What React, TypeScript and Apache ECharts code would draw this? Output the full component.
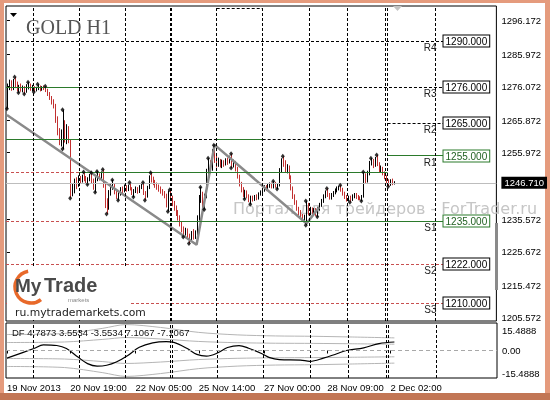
import React, { useEffect, useRef } from "react";
import * as echarts from "echarts";

// Hourly OHLC bars, one array per trading day: [open, close, low, high]
const nov19 = [
  [1270.0, 1276.5, 1269.3, 1277.0], [1276.5, 1277.5, 1275.0, 1278.2], [1277.5, 1275.5, 1274.8, 1278.0],
  [1275.5, 1277.2, 1275.0, 1278.4], [1277.2, 1276.8, 1275.6, 1279.0], [1276.8, 1275.0, 1274.6, 1277.6],
  [1275.0, 1275.8, 1274.2, 1276.6], [1275.8, 1274.8, 1274.5, 1277.0], [1274.8, 1275.6, 1274.3, 1276.4],
  [1275.6, 1274.4, 1273.8, 1276.2], [1274.4, 1276.2, 1274.2, 1276.8], [1276.2, 1276.6, 1275.2, 1277.4],
  [1276.6, 1275.2, 1274.8, 1277.0], [1275.2, 1275.8, 1274.6, 1276.6],
];
const nov20 = [
  [1275.8, 1274.8, 1274.4, 1276.2], [1274.8, 1275.6, 1274.6, 1276.0], [1275.6, 1276.0, 1275.0, 1276.8],
  [1276.0, 1275.2, 1274.6, 1276.4], [1275.2, 1275.8, 1274.8, 1276.2], [1275.8, 1275.5, 1275.0, 1276.4],
  [1275.5, 1275.0, 1274.4, 1276.2], [1275.0, 1273.8, 1273.2, 1275.4], [1273.8, 1272.6, 1272.0, 1274.4],
  [1272.6, 1271.4, 1270.6, 1273.2], [1271.4, 1270.0, 1269.4, 1272.2], [1270.0, 1266.0, 1265.0, 1270.8],
  [1266.0, 1262.0, 1261.2, 1267.0], [1262.0, 1259.4, 1258.2, 1263.4], [1259.4, 1261.5, 1257.8, 1263.0],
  [1260.0, 1265.0, 1257.0, 1269.0], [1265.0, 1261.0, 1259.0, 1265.8], [1261.0, 1263.5, 1258.5, 1264.6],
  [1263.5, 1259.5, 1258.8, 1264.0], [1259.5, 1243.0, 1242.0, 1260.0], [1243.0, 1245.0, 1242.6, 1246.5],
  [1245.0, 1247.0, 1243.5, 1248.0], [1247.0, 1246.0, 1244.8, 1248.4], [1246.0, 1248.0, 1245.5, 1249.0],
];
const nov21 = [
  [1248.0, 1247.2, 1246.4, 1248.8], [1247.2, 1248.6, 1246.8, 1249.2], [1248.6, 1248.0, 1247.2, 1250.0],
  [1248.0, 1247.0, 1246.6, 1248.8], [1247.0, 1247.8, 1246.2, 1248.4], [1247.8, 1248.8, 1247.2, 1249.4],
  [1248.8, 1247.4, 1246.6, 1249.8], [1247.4, 1245.0, 1244.6, 1248.0], [1245.0, 1247.8, 1243.8, 1248.4],
  [1247.8, 1249.0, 1247.2, 1250.2], [1249.0, 1248.0, 1247.4, 1249.6], [1248.0, 1249.6, 1247.6, 1250.2],
  [1249.6, 1246.0, 1245.2, 1250.8], [1246.0, 1240.0, 1239.0, 1246.8], [1240.0, 1239.0, 1237.2, 1242.0],
  [1239.0, 1243.5, 1238.5, 1244.5], [1243.5, 1245.5, 1242.8, 1246.6], [1245.5, 1246.0, 1244.6, 1247.6],
  [1246.0, 1244.0, 1243.2, 1246.6], [1244.0, 1242.4, 1241.8, 1244.8], [1242.4, 1243.4, 1241.4, 1244.2],
  [1243.4, 1244.8, 1242.8, 1245.4], [1244.8, 1244.2, 1243.4, 1245.6], [1244.2, 1245.6, 1243.8, 1246.2],
];
const nov22 = [
  [1245.6, 1244.6, 1244.0, 1246.0], [1244.6, 1245.8, 1244.2, 1246.2], [1245.8, 1245.0, 1244.4, 1246.8],
  [1245.0, 1243.4, 1243.0, 1245.4], [1243.4, 1244.2, 1242.4, 1244.8], [1244.2, 1245.0, 1243.6, 1245.6],
  [1245.0, 1244.0, 1243.4, 1245.4], [1244.0, 1245.4, 1243.6, 1246.0], [1245.4, 1245.8, 1244.8, 1246.4],
  [1245.8, 1243.6, 1243.0, 1246.8], [1243.6, 1242.6, 1241.4, 1244.2], [1242.6, 1245.2, 1242.2, 1245.8],
  [1245.2, 1248.4, 1244.8, 1249.0], [1248.4, 1247.6, 1246.8, 1249.8], [1247.6, 1246.8, 1246.0, 1248.6],
  [1246.8, 1246.0, 1245.2, 1247.6], [1246.0, 1245.4, 1244.6, 1246.8], [1245.4, 1244.8, 1244.0, 1246.2],
  [1244.8, 1244.0, 1243.4, 1245.6], [1244.0, 1243.4, 1242.8, 1244.8], [1243.4, 1242.8, 1242.0, 1244.2],
  [1242.8, 1240.0, 1239.2, 1243.4], [1238.6, 1243.8, 1238.0, 1244.4], [1243.8, 1242.8, 1242.0, 1244.6],
];
const nov25 = [
  [1242.0, 1240.4, 1239.6, 1242.8], [1240.4, 1239.0, 1238.2, 1241.2], [1239.0, 1237.4, 1236.6, 1239.8],
  [1237.4, 1236.0, 1235.2, 1238.4], [1236.0, 1234.2, 1233.4, 1236.8], [1234.2, 1232.4, 1231.6, 1235.0],
  [1232.4, 1231.2, 1230.2, 1233.4], [1231.2, 1232.2, 1230.6, 1233.0], [1232.2, 1230.0, 1229.4, 1232.8],
  [1230.0, 1229.4, 1228.2, 1231.2], [1229.4, 1231.0, 1228.8, 1232.0], [1231.0, 1230.2, 1229.4, 1232.6],
  [1230.2, 1231.4, 1229.6, 1232.2], [1231.4, 1236.0, 1229.8, 1236.8], [1236.0, 1242.0, 1235.2, 1243.0],
  [1242.0, 1243.2, 1240.6, 1245.4], [1243.2, 1240.0, 1239.2, 1244.0], [1240.0, 1242.6, 1238.6, 1243.4],
  [1242.6, 1250.0, 1242.0, 1251.0], [1250.0, 1252.4, 1248.6, 1254.2], [1252.4, 1251.0, 1249.6, 1253.6],
  [1251.0, 1256.0, 1250.4, 1257.0], [1256.0, 1254.0, 1252.8, 1258.2], [1254.0, 1252.2, 1251.4, 1255.0],
];
const nov26 = [
  [1252.2, 1253.4, 1251.6, 1254.4], [1253.4, 1252.0, 1251.4, 1254.0], [1252.0, 1253.0, 1251.2, 1253.8],
  [1253.0, 1252.4, 1251.6, 1253.6], [1252.4, 1253.6, 1252.0, 1254.2], [1253.6, 1253.0, 1252.2, 1254.4],
  [1253.0, 1254.4, 1252.6, 1255.0], [1254.4, 1252.0, 1251.2, 1255.6], [1252.0, 1253.0, 1251.4, 1253.8],
  [1253.0, 1251.0, 1250.2, 1253.4], [1251.0, 1248.6, 1248.0, 1251.6], [1248.6, 1246.4, 1245.6, 1249.2],
  [1246.4, 1244.6, 1243.8, 1247.0], [1244.6, 1243.0, 1242.4, 1245.4], [1243.0, 1243.8, 1241.8, 1244.6],
  [1243.8, 1242.6, 1242.0, 1244.4], [1242.6, 1241.4, 1240.8, 1243.2], [1241.4, 1242.0, 1240.2, 1242.8],
  [1242.0, 1241.6, 1241.0, 1242.8], [1241.6, 1242.4, 1241.2, 1243.0], [1242.4, 1242.0, 1241.4, 1243.2],
  [1242.0, 1243.2, 1241.6, 1243.8], [1243.2, 1243.8, 1242.8, 1244.4], [1243.8, 1244.6, 1243.2, 1245.2],
];
const nov27 = [
  [1244.6, 1245.4, 1244.0, 1246.0], [1245.4, 1244.8, 1244.2, 1246.0], [1244.8, 1245.8, 1244.4, 1246.4],
  [1245.8, 1246.2, 1245.2, 1246.8], [1246.2, 1245.6, 1245.0, 1246.8], [1245.6, 1246.4, 1245.0, 1247.2],
  [1246.4, 1245.6, 1245.2, 1247.0], [1245.6, 1246.0, 1244.8, 1246.6], [1246.0, 1250.4, 1245.6, 1251.2],
  [1250.4, 1253.6, 1249.8, 1254.2], [1253.6, 1252.8, 1251.6, 1254.8], [1252.8, 1250.4, 1249.8, 1253.6],
  [1250.4, 1251.6, 1249.6, 1252.4], [1251.6, 1248.4, 1247.8, 1252.0], [1248.4, 1245.0, 1244.4, 1249.0],
  [1245.0, 1242.4, 1241.8, 1245.6], [1242.4, 1240.6, 1240.0, 1243.2], [1240.6, 1238.8, 1238.2, 1241.4],
  [1238.8, 1237.6, 1236.8, 1239.4], [1237.6, 1236.6, 1235.8, 1238.4], [1236.6, 1235.8, 1235.2, 1237.2],
  [1235.8, 1236.4, 1235.0, 1237.0], [1234.8, 1240.0, 1233.8, 1241.2], [1240.0, 1237.6, 1236.8, 1240.6],
];
const nov28 = [
  [1237.6, 1238.6, 1236.8, 1239.4], [1238.6, 1237.8, 1237.0, 1239.2], [1237.8, 1238.4, 1236.8, 1239.0],
  [1238.4, 1237.4, 1236.6, 1239.0], [1237.4, 1238.8, 1236.4, 1239.4], [1238.8, 1240.0, 1238.2, 1240.6],
  [1240.0, 1241.2, 1239.4, 1241.8], [1241.2, 1242.6, 1240.6, 1243.2], [1242.6, 1243.8, 1242.0, 1244.4],
  [1243.8, 1243.0, 1242.4, 1245.0], [1243.0, 1242.2, 1241.6, 1243.6], [1242.2, 1243.0, 1241.6, 1243.6],
  [1243.0, 1243.8, 1242.4, 1244.2], [1243.8, 1244.4, 1243.2, 1245.0], [1244.4, 1245.0, 1243.8, 1245.6],
  [1245.0, 1245.4, 1244.4, 1245.8], [1245.4, 1244.6, 1244.0, 1246.0], [1244.6, 1243.4, 1242.8, 1245.2],
  [1243.4, 1242.4, 1241.8, 1244.0], [1242.4, 1241.6, 1241.0, 1243.0],
];
const nov29 = [
  [1241.6, 1242.2, 1241.0, 1242.8], [1242.2, 1241.6, 1240.8, 1242.8], [1241.6, 1242.6, 1241.2, 1243.2],
  [1242.6, 1243.0, 1242.0, 1243.6], [1243.0, 1242.4, 1241.8, 1243.6], [1242.4, 1242.0, 1241.4, 1243.0],
  [1242.0, 1241.8, 1241.4, 1242.6], [1241.8, 1242.6, 1241.2, 1243.0], [1242.6, 1248.8, 1242.2, 1250.0],
  [1248.8, 1247.4, 1246.6, 1249.6], [1247.4, 1249.6, 1246.8, 1250.4], [1249.6, 1252.8, 1249.0, 1253.4],
  [1252.8, 1253.6, 1252.0, 1254.2], [1253.6, 1252.0, 1251.2, 1254.0], [1252.0, 1253.8, 1251.6, 1254.6],
  [1253.8, 1252.4, 1251.8, 1255.2], [1252.4, 1250.6, 1250.0, 1253.0], [1250.6, 1251.2, 1249.8, 1252.0],
  [1251.2, 1249.6, 1249.0, 1251.6], [1249.6, 1248.4, 1247.8, 1250.2],
];
const dec02 = [
  [1248.4, 1247.2, 1246.6, 1249.0], [1247.2, 1246.0, 1245.6, 1247.8], [1246.0, 1247.4, 1245.8, 1247.8],
  [1247.4, 1246.4, 1246.0, 1248.0], [1246.4, 1246.71, 1246.2, 1247.2],
];
const days = [nov19, nov20, nov21, nov22, nov25, nov26, nov27, nov28, nov29, dec02];

// fractal bars (bar numbers)
const fractalHighIdx = [4, 11, 16, 20, 29, 40, 44, 47, 50, 55, 64, 71, 75, 85, 101, 105, 108, 117, 139, 144, 156, 167, 174, 186, 190, 193];
const fractalLowIdx = [0, 6, 9, 14, 29, 33, 42, 46, 52, 58, 66, 72, 84, 92, 95, 103, 117, 124, 127, 141, 156, 162, 179, 185, 199];

// gray zigzag trend line
const trendIdx = [0, 99, 108.4, 156.4, 163];
const trendVal = [1267.4, 1227.8, 1258.3, 1234.3, 1239.3];

// day separators (bar-number positions)
const sepIdx = [13.6, 37.6, 61.5, 85.0, 86.0, 109.5, 133.5, 158.0, 177.8, 197.6, 198.7, 223.7];

// horizontal level segments
const segPrice = [1300, 1290, 1276, 1276, 1265, 1260, 1260, 1260, 1260, 1255, 1250, 1250, 1235, 1235, 1222, 1210];
const segFrom = [109.5, -0.5, -0.5, 37.6, 198.7, -0.5, 37.6, 109.5, 133.5, 198.7, -0.5, 37.6, -0.5, 37.6, -0.5, -0.5];
const segTo = [133.5, 227.9, 37.6, 227.9, 227.9, 37.6, 109.5, 133.5, 198.7, 227.9, 37.6, 198.7, 37.6, 227.9, 227.9, 227.9];
const segKind = ["black", "black", "green", "black", "black", "green", "black", "green", "black", "green", "red", "green", "red", "green", "red", "red"];

// pivot labels at right
const pivotNames = ["R4", "R3", "R2", "R1", "S1", "S2", "S3"];
const pivotPrices = [1290, 1276, 1265, 1255, 1235, 1222, 1210];
const pivotGreen = [false, false, false, true, true, false, false];
const pivotEnd = 227.9;

const lastPrice = 1246.71;
const priceTicks = [1296.172, 1285.972, 1276.072, 1265.872, 1255.972, 1246.71, 1235.572, 1225.672, 1215.472, 1205.572];
const timeIdx = [0, 33, 67, 100, 134, 167, 200];
const timeText = ["19 Nov 2013", "20 Nov 19:00", "22 Nov 05:00", "25 Nov 14:00", "27 Nov 00:00", "28 Nov 09:00", "2 Dec 02:00"];

// DF indicator
const dfTicks = [15.4888, 0, -15.4888];
const dfIdx = [0, 14, 19, 26, 31, 37, 42, 47, 52, 57, 63, 69, 76, 83, 87, 94, 99, 104, 110, 115, 121, 126, 133, 137, 142, 153, 158, 165, 172, 177, 186, 194, 202];
const dfVal = [-4.3, 1.1, 3.2, 2.8, 1.1, -3.7, -7.4, -8.8, -8.3, -6.5, -2.8, 1.8, 4.3, 5.0, 4.6, 1.1, -2.2, -3.2, -1.3, 1.7, 2.8, 1.3, -1.8, -4.0, -5.1, -5.4, -6.1, -4.3, -1.8, 0.0, 1.5, 3.9, 4.7873];
const bandIdx = [0, 30, 50, 62, 80, 100, 120, 140, 160, 180, 202];
const bandOuter = [9.0, 9.6, 12.5, 14.6, 13.0, 10.2, 8.8, 8.2, 8.0, 7.6, 7.1067];
const bandInner = [4.5, 4.8, 6.25, 7.3, 6.5, 5.1, 4.4, 4.1, 4.0, 3.8, 3.5534];

const RED = "#c23030";
const GREEN = "#2b7a2b";
const FONT = "Liberation Sans";

export default function App() {
  const ref = useRef<HTMLDivElement>(null);
  useEffect(() => {
    if (!ref.current) return;
    const chart = echarts.init(ref.current, null, { renderer: "svg" });

    const bars: number[][] = [];
    let n = 0;
    days.forEach((d) => d.forEach((b) => bars.push([n++, b[0], b[1], b[2], b[3]])));

    const styleFor = (k: string) =>
      k === "green"
        ? { color: GREEN, type: "solid", width: 1 }
        : k === "red"
        ? { color: "#c85050", type: [3, 2], width: 1 }
        : { color: "#000", type: [3, 2], width: 1 };

    const segData: any[] = segPrice.map((p, i) => [
      { coord: [segFrom[i], p], lineStyle: styleFor(segKind[i]) },
      { coord: [segTo[i], p] },
    ]);
    segData.push([
      { coord: [-0.5, lastPrice], lineStyle: { color: "#bdbdbd", type: "solid", width: 1 } },
      { coord: [255.5, lastPrice] },
    ]);
    const sepData = sepIdx.map((v) => ({ xAxis: v }));
    const sepStyle = { color: "#000", type: [3, 2], width: 1 };

    const option: any = {
      animation: false,
      grid: [
        { left: 6, top: 6, width: 491, height: 315, show: true, borderColor: "#000", borderWidth: 1 },
        { left: 6, top: 323, width: 491, height: 55, show: true, borderColor: "#000", borderWidth: 1 },
      ],
      xAxis: [
        {
          type: "value", gridIndex: 0, min: -0.5, max: 255.5,
          axisLine: { show: false }, axisTick: { show: false }, axisLabel: { show: false }, splitLine: { show: false },
        },
        {
          type: "value", gridIndex: 1, min: -0.5, max: 255.5,
          axisLine: { show: false }, splitLine: { show: false },
          axisTick: { show: true, customValues: timeIdx, length: 3, lineStyle: { color: "#000" } },
          axisLabel: {
            customValues: timeIdx, align: "left", margin: 4, fontSize: 9.5, fontFamily: FONT, color: "#000",
            formatter: (v: number) => timeText[timeIdx.indexOf(v)] ?? "",
          },
        },
      ],
      yAxis: [
        {
          type: "value", gridIndex: 0, position: "right", min: 1204.561, max: 1300.656,
          axisLine: { show: false }, splitLine: { show: false },
          axisTick: { show: true, customValues: priceTicks, length: 3, lineStyle: { color: "#000" } },
          axisLabel: {
            customValues: priceTicks, margin: 5, fontSize: 9.5, fontFamily: FONT, color: "#000",
            formatter: (v: number) => (Math.abs(v - lastPrice) < 1e-6 ? `{cur|${v.toFixed(3)}}` : v.toFixed(3)),
            rich: { cur: { backgroundColor: "#000", color: "#fff", padding: [1, 3, 1, 3], fontSize: 9.5, fontFamily: FONT } },
          },
        },
        {
          type: "value", gridIndex: 1, position: "right", min: -15.4888, max: 15.4888,
          axisLine: { show: false }, splitLine: { show: false },
          axisTick: { show: false },
          axisLabel: {
            customValues: dfTicks, margin: 5, fontSize: 9.5, fontFamily: FONT, color: "#000",
            formatter: (v: number) => (v > 0 ? `{t|${v.toFixed(4)}}` : v < 0 ? `{b|${v.toFixed(4)}}` : "0.00"),
            rich: {
              t: { padding: [14, 0, 0, 0], fontSize: 9.5, fontFamily: FONT, color: "#000" },
              b: { padding: [0, 0, 10, 0], fontSize: 9.5, fontFamily: FONT, color: "#000" },
            },
          },
        },
      ],
      series: [
        {
          type: "line", xAxisIndex: 0, yAxisIndex: 0, data: [], z: 1,
          markLine: { silent: true, symbol: ["none", "none"], label: { show: false }, lineStyle: sepStyle, data: [...segData, ...sepData] },
        },
        {
          type: "custom", xAxisIndex: 0, yAxisIndex: 0, z: 3,
          encode: { x: 0, y: [1, 2, 3, 4] },
          data: bars,
          renderItem: (_p: any, api: any) => {
            const x = api.value(0);
            const o = api.value(1), c = api.value(2), l = api.value(3), h = api.value(4);
            const pl = api.coord([x, l]);
            const ph = api.coord([x, h]);
            const px = Math.round(pl[0]) + 0.5;
            return {
              type: "line",
              shape: { x1: px, y1: ph[1], x2: px, y2: pl[1] },
              style: { stroke: c >= o ? "#000" : RED, lineWidth: 1 },
            };
          },
        },
        {
          type: "line", xAxisIndex: 0, yAxisIndex: 0, z: 4, symbol: "none",
          lineStyle: { color: "#8a8a8a", width: 2.5 },
          data: trendIdx.map((x, i) => [x, trendVal[i]]),
        },
        {
          type: "scatter", xAxisIndex: 0, yAxisIndex: 0, z: 5, symbol: "diamond", symbolSize: [4, 5],
          itemStyle: { color: "#000" },
          data: [
            ...fractalHighIdx.map((i) => [i, bars[i][4]]),
            ...fractalLowIdx.map((i) => [i, bars[i][3]]),
          ],
        },
        {
          type: "line", xAxisIndex: 1, yAxisIndex: 1, data: [], z: 1,
          markLine: {
            silent: true, symbol: ["none", "none"], label: { show: false }, lineStyle: sepStyle,
            data: [
              ...sepData,
              [{ coord: [-0.5, 0], lineStyle: { color: "#a8a8a8", type: [4, 3], width: 1 } }, { coord: [255.5, 0] }],
            ],
          },
        },
        ...[bandOuter, bandInner].flatMap((arr) =>
          [1, -1].map((s) => ({
            type: "line", xAxisIndex: 1, yAxisIndex: 1, z: 2, symbol: "none", smooth: 0.3,
            lineStyle: { color: "#b5b5b5", width: 1 },
            data: bandIdx.map((x, i) => [x, s * arr[i]]),
          }))
        ),
        {
          type: "line", xAxisIndex: 1, yAxisIndex: 1, z: 3, symbol: "none", smooth: 0.35,
          lineStyle: { color: "#000", width: 1.2 },
          data: dfIdx.map((x, i) => [x, dfVal[i]]),
        },
      ],
    };
    chart.setOption(option);

    const xEnd = chart.convertToPixel({ xAxisIndex: 0 }, pivotEnd) as number;
    const pivotGraphics: any[] = [];
    pivotPrices.forEach((p, i) => {
      const y = chart.convertToPixel({ yAxisIndex: 0 }, p) as number;
      const col = pivotGreen[i] ? GREEN : "#000";
      pivotGraphics.push({
        type: "text", x: xEnd, y: Math.round(y), z: 20,
        style: {
          text: p.toFixed(3), font: `10px "${FONT}"`, fill: pivotGreen[i] ? "#1f5f1f" : "#000",
          align: "left", verticalAlign: "middle", backgroundColor: "#fff", borderColor: col, borderWidth: 1,
          padding: [1, 2, 0, 2], lineHeight: 10,
        },
      });
      pivotGraphics.push({
        type: "text", x: xEnd - 7, y: Math.round(y) + 6, z: 20,
        style: { text: pivotNames[i], font: `10px "${FONT}"`, fill: "#222", align: "right", verticalAlign: "middle" },
      });
    });

    chart.setOption({
      graphic: [
        { type: "rect", z: -10, shape: { x: 0, y: 0, width: 550, height: 400 }, style: { fill: "#e59b7d" } },
        { type: "rect", z: -10, shape: { x: 0, y: 393, width: 550, height: 7 }, style: { fill: "#c27655" } },
        { type: "rect", z: -9, shape: { x: 4, y: 3, width: 541, height: 390 }, style: { fill: "#ffffff" } },
        {
          type: "text", x: 26, y: 27, z: 10,
          style: { text: "GOLD H1", font: '20px "Liberation Serif"', fill: "#555", align: "left", verticalAlign: "middle" },
        },
        { type: "polygon", z: 10, shape: { points: [[10, 13], [17, 13], [13.5, 17]] }, style: { fill: "#000" } },
        { type: "polygon", z: 10, shape: { points: [[393, 6], [402, 6], [397.5, 11]] }, style: { fill: "#c4c4c4" } },
        {
          type: "text", x: 233, y: 208, z: 1,
          style: { text: "Портал для трейдеров - ForTrader.ru", font: '16px "DejaVu Sans"', fill: "#c6c6c6", align: "left", verticalAlign: "middle" },
        },
        {
          type: "text", x: 12, y: 332, z: 10,
          style: { text: "DF 4.7873 3.5534 -3.5534 7.1067 -7.1067", font: `9.5px "${FONT}"`, fill: "#111", align: "left", verticalAlign: "middle" },
        },
        { type: "rect", z: 10, shape: { x: 495, y: 223, width: 3, height: 67 }, style: { fill: "#8a8a8a" } },
        { type: "rect", z: 100, shape: { x: 7, y: 268, width: 124, height: 52 }, style: { fill: "#fff" } },
        {
          type: "arc", z: 101,
          shape: { cx: 31, cy: 287, r: 16, startAngle: -1.75, endAngle: 0.9, clockwise: false },
          style: { stroke: "#e8692a", lineWidth: 3.5, fill: null },
        },
        {
          type: "text", x: 15, y: 285, z: 102,
          style: { text: "My", font: 'bold 19px "Liberation Sans"', fill: "#4a4a4a", align: "left", verticalAlign: "middle" },
        },
        {
          type: "text", x: 44, y: 285, z: 102,
          style: { text: "Trade", font: 'bold 20px "Liberation Sans"', fill: "#4a4a4a", align: "left", verticalAlign: "middle" },
        },
        {
          type: "text", x: 68, y: 300, z: 102,
          style: { text: "markets", font: '6px "Liberation Sans"', fill: "#888", align: "left", verticalAlign: "middle" },
        },
        {
          type: "text", x: 15, y: 312, z: 102,
          style: { text: "ru.mytrademarkets.com", font: '10.8px "DejaVu Sans"', fill: "#222", align: "left", verticalAlign: "middle" },
        },
        ...pivotGraphics,
      ],
    });

    return () => chart.dispose();
  }, []);
  return <div ref={ref} style={{ position: "fixed", left: 0, top: 0, width: 550, height: 400 }} />;
}
